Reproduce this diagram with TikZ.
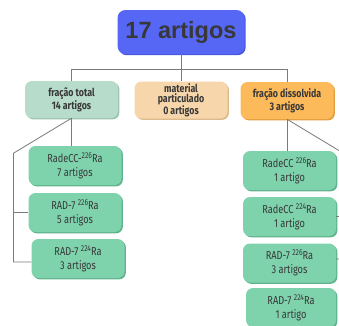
\documentclass[tikz,border=0pt]{standalone}
\usepackage{fontspec}
\setmainfont[FakeStretch=0.8]{Fira Sans}
\newfontfamily\titlefont{Liberation Sans}
\usetikzlibrary{
  positioning,
  calc,
  shadows
}
\definecolor{topblue}{HTML}{5567F4}
\definecolor{topshade}{HTML}{4656D8}
\definecolor{totalgreen}{HTML}{B8DCCB}
\definecolor{totalshade}{HTML}{9CC4B0}
\definecolor{partbeige}{HTML}{F6D6AA}
\definecolor{partshade}{HTML}{DDBA8C}
\definecolor{dissorange}{HTML}{FDBA5B}
\definecolor{dissshade}{HTML}{E39E3E}
\definecolor{leafgreen}{HTML}{7ED2AC}
\definecolor{leafshade}{HTML}{5FB38D}
\definecolor{txtgray}{HTML}{383838}
\definecolor{linegray}{HTML}{7A7A7A}
\newcommand{\isotope}[1]{\raisebox{4.2pt}{\fontsize{8.5}{9}\selectfont#1}}
\tikzset{
  link/.style={draw=linegray,line width=0.8pt},
  topbox/.style={rectangle,rounded corners=8pt,fill=topblue,minimum width=127pt,minimum height=44pt,
    text=txtgray,font=\titlefont\bfseries\fontsize{23.5}{25}\selectfont,
    drop shadow={shadow xshift=1.2pt,shadow yshift=-1.2pt,fill=topshade,opacity=1}},
  groupbox/.style={rectangle,rounded corners=7pt,minimum width=93pt,minimum height=37pt,inner sep=1pt,
    align=center,text=txtgray,font=\bfseries\fontsize{11}{10}\selectfont,
    drop shadow={shadow xshift=1.4pt,shadow yshift=-1.4pt,fill=#1,opacity=1}},
  leafbox/.style={rectangle,rounded corners=7pt,fill=leafgreen,minimum width=93pt,minimum height=39pt,inner sep=1pt,
    align=center,text=txtgray,font=\fontsize{11.5}{14}\selectfont,
    drop shadow={shadow xshift=1.4pt,shadow yshift=-1.4pt,fill=leafshade,opacity=1}}
}

\begin{document}
\begin{tikzpicture}[x=1pt, y=-1pt, on grid]
    \useasboundingbox (0,0) rectangle (339,325);
    \clip (0,0) rectangle (339,325);
    \node[topbox] (top) at (181,32) {17 artigos};
    \node[groupbox=totalshade, fill=totalgreen, below=67.5pt of top, xshift=-109.5pt] (total) {fração total\\14 artigos};
    \node[groupbox=partshade, fill=partbeige, below=68pt of top] (part) {material\\particulado\\0 artigos};
    \node[groupbox=dissshade, fill=dissorange, below=68.5pt of top, xshift=106pt] (diss) {fração dissolvida\\3 artigos};

    % fração total
    \node[leafbox, below=66pt of total, xshift=3.5pt] (ta) {RadeCC-\isotope{226}Ra\\7 artigos};
    \node[leafbox, below=47pt of ta] (tb) {RAD-7 \isotope{226}Ra\\5 artigos};
    \node[leafbox, below=46pt of tb, xshift=3pt] (tc) {RAD-7 \isotope{224}Ra\\3 artigos};

    % fração dissolvida
    \node[leafbox, below=70pt of diss, xshift=2.5pt] (da) {RadeCC \isotope{226}Ra\\1 artigo};
    \node[leafbox, below=46pt of da] (db) {RadeCC \isotope{224}Ra\\1 artigo};
    \node[leafbox, below=46.5pt of db] (dc) {RAD-7 \isotope{226}Ra\\3 artigos};
    \node[leafbox, minimum width=90pt, below=44.5pt of dc, xshift=1.5pt] (dd) {RAD-7 \isotope{224}Ra\\1 artigo};

    \coordinate (bus) at ($(top.south)+(0,15)$);
    \draw[link] (top.south) -- (bus);
    \draw[link] (total.north) |- (bus) -| (diss.north);
    \draw[link] (bus) -- (part.north);

    \coordinate (lbend) at ($(total.south)+(-58,35)$);
    \draw[link] (total.south) -- (total.south |- ta.north);
    \draw[link] (total.south) -- (lbend) |- ($(tc.west)+(0,3.5)$);
    \draw[link] (lbend |- tb.west) -- (tb.west);

    \coordinate (rbend) at ($(diss.south)+(58,35)$);
    \draw[link] (diss.south) -- (diss.south |- da.north);
    \draw[link] (diss.south) -- (rbend) |- ($(dc.east)+(0,-4)$);
    \draw[link] (rbend |- db.east) -- (db.east);
\end{tikzpicture}
\end{document}
